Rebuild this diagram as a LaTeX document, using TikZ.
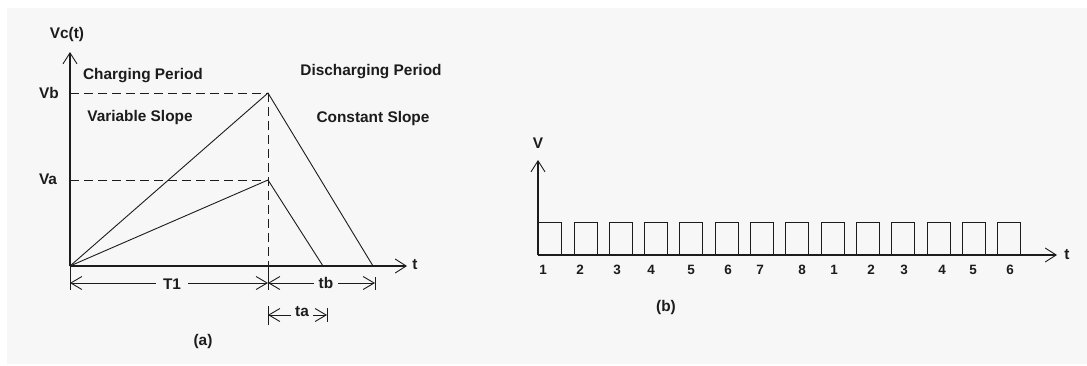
\documentclass[tikz,border=0pt]{standalone}
\usepackage{fontspec}
\setmainfont{Liberation Sans}
\usepackage{tikz}
\usetikzlibrary{arrows.meta}
\definecolor{figBg}{RGB}{247,247,247}
\definecolor{figK}{RGB}{28,28,28}
\tikzset{
  lbl/.style={font=\bfseries\fontsize{15.4}{17}\selectfont, text=figK, inner sep=1pt},
  numlbl/.style={font=\bfseries\fontsize{13.5}{15}\selectfont, text=figK, inner sep=0pt},
  axisline/.style={figK, line width=1.2pt, -{Straight Barb[length=11pt, width=14pt, line width=0.9pt]}},
  guide/.style={figK, line width=1pt, dash pattern=on 9pt off 5pt},
  ramp/.style={figK, line width=0.9pt},
  dimline/.style={figK, line width=0.9pt,
    {Straight Barb[length=11pt, width=13pt]}-{Straight Barb[length=11pt, width=13pt]}},
  extline/.style={figK, line width=0.9pt},
  gapfill/.style={fill=figBg, inner xsep=7pt}
}

\begin{document}
\begin{tikzpicture}[x=1pt, y=-1pt]
\useasboundingbox (0,0) rectangle (1087,365);
\fill[white] (0,0) rectangle (1087,365);
\fill[figBg] (7,8) rectangle (1087,364);
% panel (a): points of the ramps
\coordinate (O) at (70,266);
\coordinate (Ytop) at (70,52);
\coordinate (Xend) at (407,266);
\coordinate (Pb) at (268,93);
\coordinate (Pa) at (268,180);
\coordinate (Eb) at (373,266);
\coordinate (Ea) at (323,266);
\coordinate (Vb0) at (70,93);
\coordinate (Va0) at (70,180);
\coordinate (Foot) at (268,266);
% dashed guides
\draw[guide] (Vb0) -- (Pb);
\draw[guide] (Va0) -- (Pa);
\draw[guide] (Pb) -- (Foot);
% charging and discharging ramps
\draw[ramp] (O) -- (Pb) -- (Eb);
\draw[ramp] (O) -- (Pa) -- (Ea);
% axes
\draw[axisline] (O) -- (Ytop);
\draw[axisline] (O) -- (Xend);
\node[lbl] (vct) at (67,35) {Vc(t)};
\node[lbl] (tA) at (415,265) {t};
\node[lbl] (vb) at (49,93) {Vb};
\node[lbl] (va) at (48,179) {Va};
\node[lbl] (chg) at (143,76) {Charging Period};
\node[lbl] (vsl) at (140,118) {Variable Slope};
\node[lbl] (dchg) at (371,72) {Discharging Period};
\node[lbl] (csl) at (373,119) {Constant Slope};
% dimension lines below the axis
\coordinate (d1l) at (70,283);
\coordinate (d1r) at (268,283);
\coordinate (d2r) at (375,283);
\coordinate (d3l) at (268,315);
\coordinate (d3r) at (327,315);
\draw[extline] (O) -- (70,290);
\draw[extline] (Foot) -- (268,290);
\draw[extline] (375,277) -- (375,290);
\draw[extline] (268,306) -- (268,325);
\draw[extline] (327,308) -- (327,322);
\draw[dimline] (d1l) -- (d1r);
\draw[dimline] (d1r) -- (d2r);
\draw[dimline] (d3l) -- (d3r);
\node[lbl, gapfill] (T1) at (172,284) {T1};
\node[lbl, gapfill, inner xsep=5pt] (tb) at (326,283) {tb};
\node[lbl, gapfill, inner xsep=4pt] (ta) at (302,312) {ta};
\node[lbl] (capA) at (203,342) {(a)};
% panel (b): pulse train
\coordinate (Q) at (538,255);
\coordinate (Vtop) at (538,160);
\coordinate (Qend) at (1057,255);
\foreach \k in {0,...,13}
  \draw[ramp] ({538.7+35.3*\k},255) rectangle ({561.7+35.3*\k},222.5);
\draw[axisline] (Q) -- (Vtop);
\draw[axisline] (Q) -- (Qend);
\node[lbl] (vB) at (538,143) {V};
\node[lbl] (tB) at (1067,255) {t};
\foreach \x/\d [count=\i] in {543/1,580/2,617/3,651/4,691/5,728/6,760/7,802/8,
                              834/1,871/2,904/3,942/4,973/5,1010/6}
  \node[numlbl] (n\i) at (\x,270) {\d};
\node[lbl] (capB) at (666,308) {(b)};
\end{tikzpicture}
\end{document}
